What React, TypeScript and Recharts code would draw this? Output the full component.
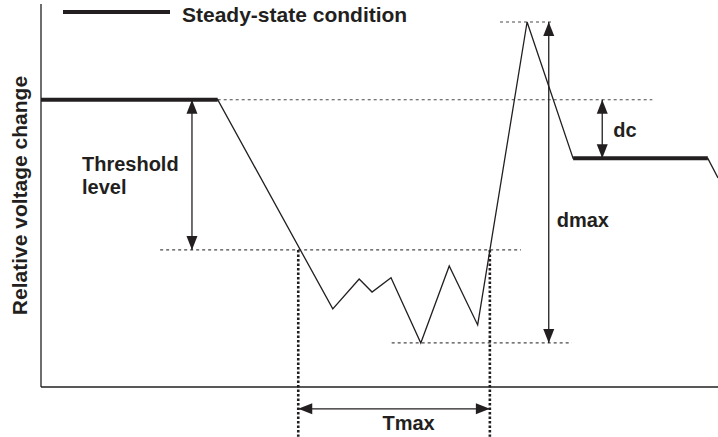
import React from 'react';
import { ComposedChart, Line, XAxis, YAxis, ReferenceLine, Legend } from 'recharts';

const INK = '#231f20';
const GUIDE = '#4a4a4a';
const FONT = '"Liberation Sans", Arial, Helvetica, sans-serif';

// Trace: time (% of window) vs relative voltage (%)
const traceTime = [0, 26.1, 43.1, 47.0, 48.9, 51.7, 56.1, 60.3, 64.5, 71.8, 78.6, 98.5, 100];
const traceVoltage = [75, 75, 20.4, 28.2, 24.8, 28.5, 11.5, 31.6, 16.2, 95.3, 59.7, 59.7, 54.6];

// Steady-state segments
const steadyBeforeTime = [0, 26.1];
const steadyBeforeVoltage = [75, 75];
const steadyAfterTime = [78.6, 98.5];
const steadyAfterVoltage = [59.7, 59.7];

// Levels
const levelBefore = 75;
const levelAfter = 59.7;
const thresholdLevel = 35.8;
const peakLevel = 95.3;
const troughLevel = 11.5;
const tmaxStart = 38.0;
const tmaxEnd = 66.3;

const toRows = (ts: number[], vs: number[]) => ts.map((t, i) => ({ t, v: vs[i] }));
const trace = toRows(traceTime, traceVoltage);
const steadyBefore = toRows(steadyBeforeTime, steadyBeforeVoltage);
const steadyAfter = toRows(steadyAfterTime, steadyAfterVoltage);

const HEAD_LEN = 14;
const HEAD_W = 5.5;

type LabelSpec = { lines: string[]; dx: number; dy: number; anchor?: 'start' | 'middle' | 'end' };

const arrowShape = (label?: LabelSpec) => (props: any) => {
  const { x1, y1, x2, y2 } = props;
  const len = Math.hypot(x2 - x1, y2 - y1) || 1;
  const ux = (x2 - x1) / len;
  const uy = (y2 - y1) / len;
  const head = (tx: number, ty: number, dx: number, dy: number) => {
    const bx = tx - dx * HEAD_LEN;
    const by = ty - dy * HEAD_LEN;
    const px = -dy * HEAD_W;
    const py = dx * HEAD_W;
    return `${tx},${ty} ${bx + px},${by + py} ${bx - px},${by - py}`;
  };
  const mx = (x1 + x2) / 2;
  const my = (y1 + y2) / 2;
  return (
    <g>
      <line x1={x1} y1={y1} x2={x2} y2={y2} stroke={INK} strokeWidth={1.3} />
      <polygon points={head(x1, y1, -ux, -uy)} fill={INK} />
      <polygon points={head(x2, y2, ux, uy)} fill={INK} />
      {label && (
        <text
          x={mx + label.dx}
          y={my + label.dy}
          fill={INK}
          fontFamily={FONT}
          fontWeight="bold"
          fontSize={20}
          textAnchor={label.anchor ?? 'start'}
        >
          {label.lines.map((l, i) => (
            <tspan key={i} x={mx + label.dx} dy={i === 0 ? 0 : 23}>
              {l}
            </tspan>
          ))}
        </text>
      )}
    </g>
  );
};

const YLabel = (p: any) => {
  const vb = p.viewBox || { x: 0, y: 4, width: 41, height: 383 };
  const cy = vb.y + vb.height / 2;
  return (
    <text
      x={27}
      y={cy}
      transform={`rotate(-90, 27, ${cy})`}
      textAnchor="middle"
      fill={INK}
      fontFamily={FONT}
      fontWeight="bold"
      fontSize={21}
    >
      Relative voltage change
    </text>
  );
};

const LegendContent = () => (
  <div style={{ display: 'flex', alignItems: 'flex-start', fontFamily: FONT }}>
    <span style={{ display: 'block', width: 107, height: 4, background: INK, marginTop: 7.5 }} />
    <span
      style={{
        marginLeft: 12,
        fontWeight: 'bold',
        fontSize: 21,
        lineHeight: '24px',
        marginTop: 1,
        color: INK,
        whiteSpace: 'nowrap',
      }}
    >
      Steady-state condition
    </span>
  </div>
);

const dotted = { stroke: GUIDE, strokeWidth: 1.2, strokeDasharray: '3 3' };
const thickDotted = { stroke: INK, strokeWidth: 2.6, strokeDasharray: '2.5 2' };

export default function App() {
  return (
    <div style={{ position: 'absolute', left: 0, top: 0 }}>
      <ComposedChart width={718} height={437} margin={{ top: 4, right: 0, bottom: 0, left: 0 }}>
        <XAxis
          type="number"
          dataKey="t"
          domain={[0, 100]}
          allowDataOverflow
          tick={false}
          tickLine={false}
          height={50}
          axisLine={{ stroke: INK, strokeWidth: 1.3 }}
        />
        <YAxis
          type="number"
          dataKey="v"
          domain={[0, 100]}
          allowDataOverflow
          tick={false}
          tickLine={false}
          width={41}
          axisLine={{ stroke: INK, strokeWidth: 1.3 }}
          label={YLabel}
        />
        <Legend
          layout="horizontal"
          verticalAlign="middle"
          align="center"
          wrapperStyle={{ top: 2, left: 63, width: 'auto' }}
          content={LegendContent}
        />

        {/* guide lines */}
        <ReferenceLine ifOverflow="visible" segment={[{ x: 26.1, y: levelBefore }, { x: 90.3, y: levelBefore }]} {...dotted} />
        <ReferenceLine ifOverflow="visible" segment={[{ x: 17.6, y: thresholdLevel }, { x: 70.9, y: thresholdLevel }]} {...dotted} />
        <ReferenceLine ifOverflow="visible" segment={[{ x: 51.8, y: troughLevel }, { x: 78.4, y: troughLevel }]} {...dotted} />
        <ReferenceLine ifOverflow="visible" segment={[{ x: 67.8, y: peakLevel }, { x: 75.6, y: peakLevel }]} {...dotted} />
        <ReferenceLine ifOverflow="visible" segment={[{ x: tmaxStart, y: thresholdLevel }, { x: tmaxStart, y: -13 }]} {...thickDotted} />
        <ReferenceLine ifOverflow="visible" segment={[{ x: tmaxEnd, y: thresholdLevel }, { x: tmaxEnd, y: -13 }]} {...thickDotted} />

        {/* trace */}
        <Line data={trace} dataKey="v" type="linear" dot={false} stroke={INK} strokeWidth={1.3} isAnimationActive={false} legendType="none" />
        <Line data={steadyBefore} dataKey="v" type="linear" dot={false} stroke={INK} strokeWidth={4} isAnimationActive={false} />
        <Line data={steadyAfter} dataKey="v" type="linear" dot={false} stroke={INK} strokeWidth={4} isAnimationActive={false} />

        {/* arrows */}
        <ReferenceLine
          ifOverflow="visible"
          segment={[{ x: 22.3, y: levelBefore }, { x: 22.3, y: thresholdLevel }]}
          shape={arrowShape({ lines: ['Threshold', 'level'], dx: -110, dy: -3.5 })}
        />
        <ReferenceLine
          ifOverflow="visible"
          segment={[{ x: 82.9, y: levelBefore }, { x: 82.9, y: levelAfter }]}
          shape={arrowShape({ lines: ['dc'], dx: 11, dy: 8 })}
        />
        <ReferenceLine
          ifOverflow="visible"
          segment={[{ x: 75.0, y: peakLevel }, { x: 75.0, y: troughLevel }]}
          shape={arrowShape({ lines: ['dmax'], dx: 8, dy: 44.5 })}
        />
        <ReferenceLine
          ifOverflow="visible"
          segment={[{ x: tmaxStart, y: -5.7 }, { x: tmaxEnd, y: -5.7 }]}
          shape={arrowShape({ lines: ['Tmax'], dx: 14.5, dy: 21, anchor: 'middle' })}
        />
      </ComposedChart>
    </div>
  );
}
